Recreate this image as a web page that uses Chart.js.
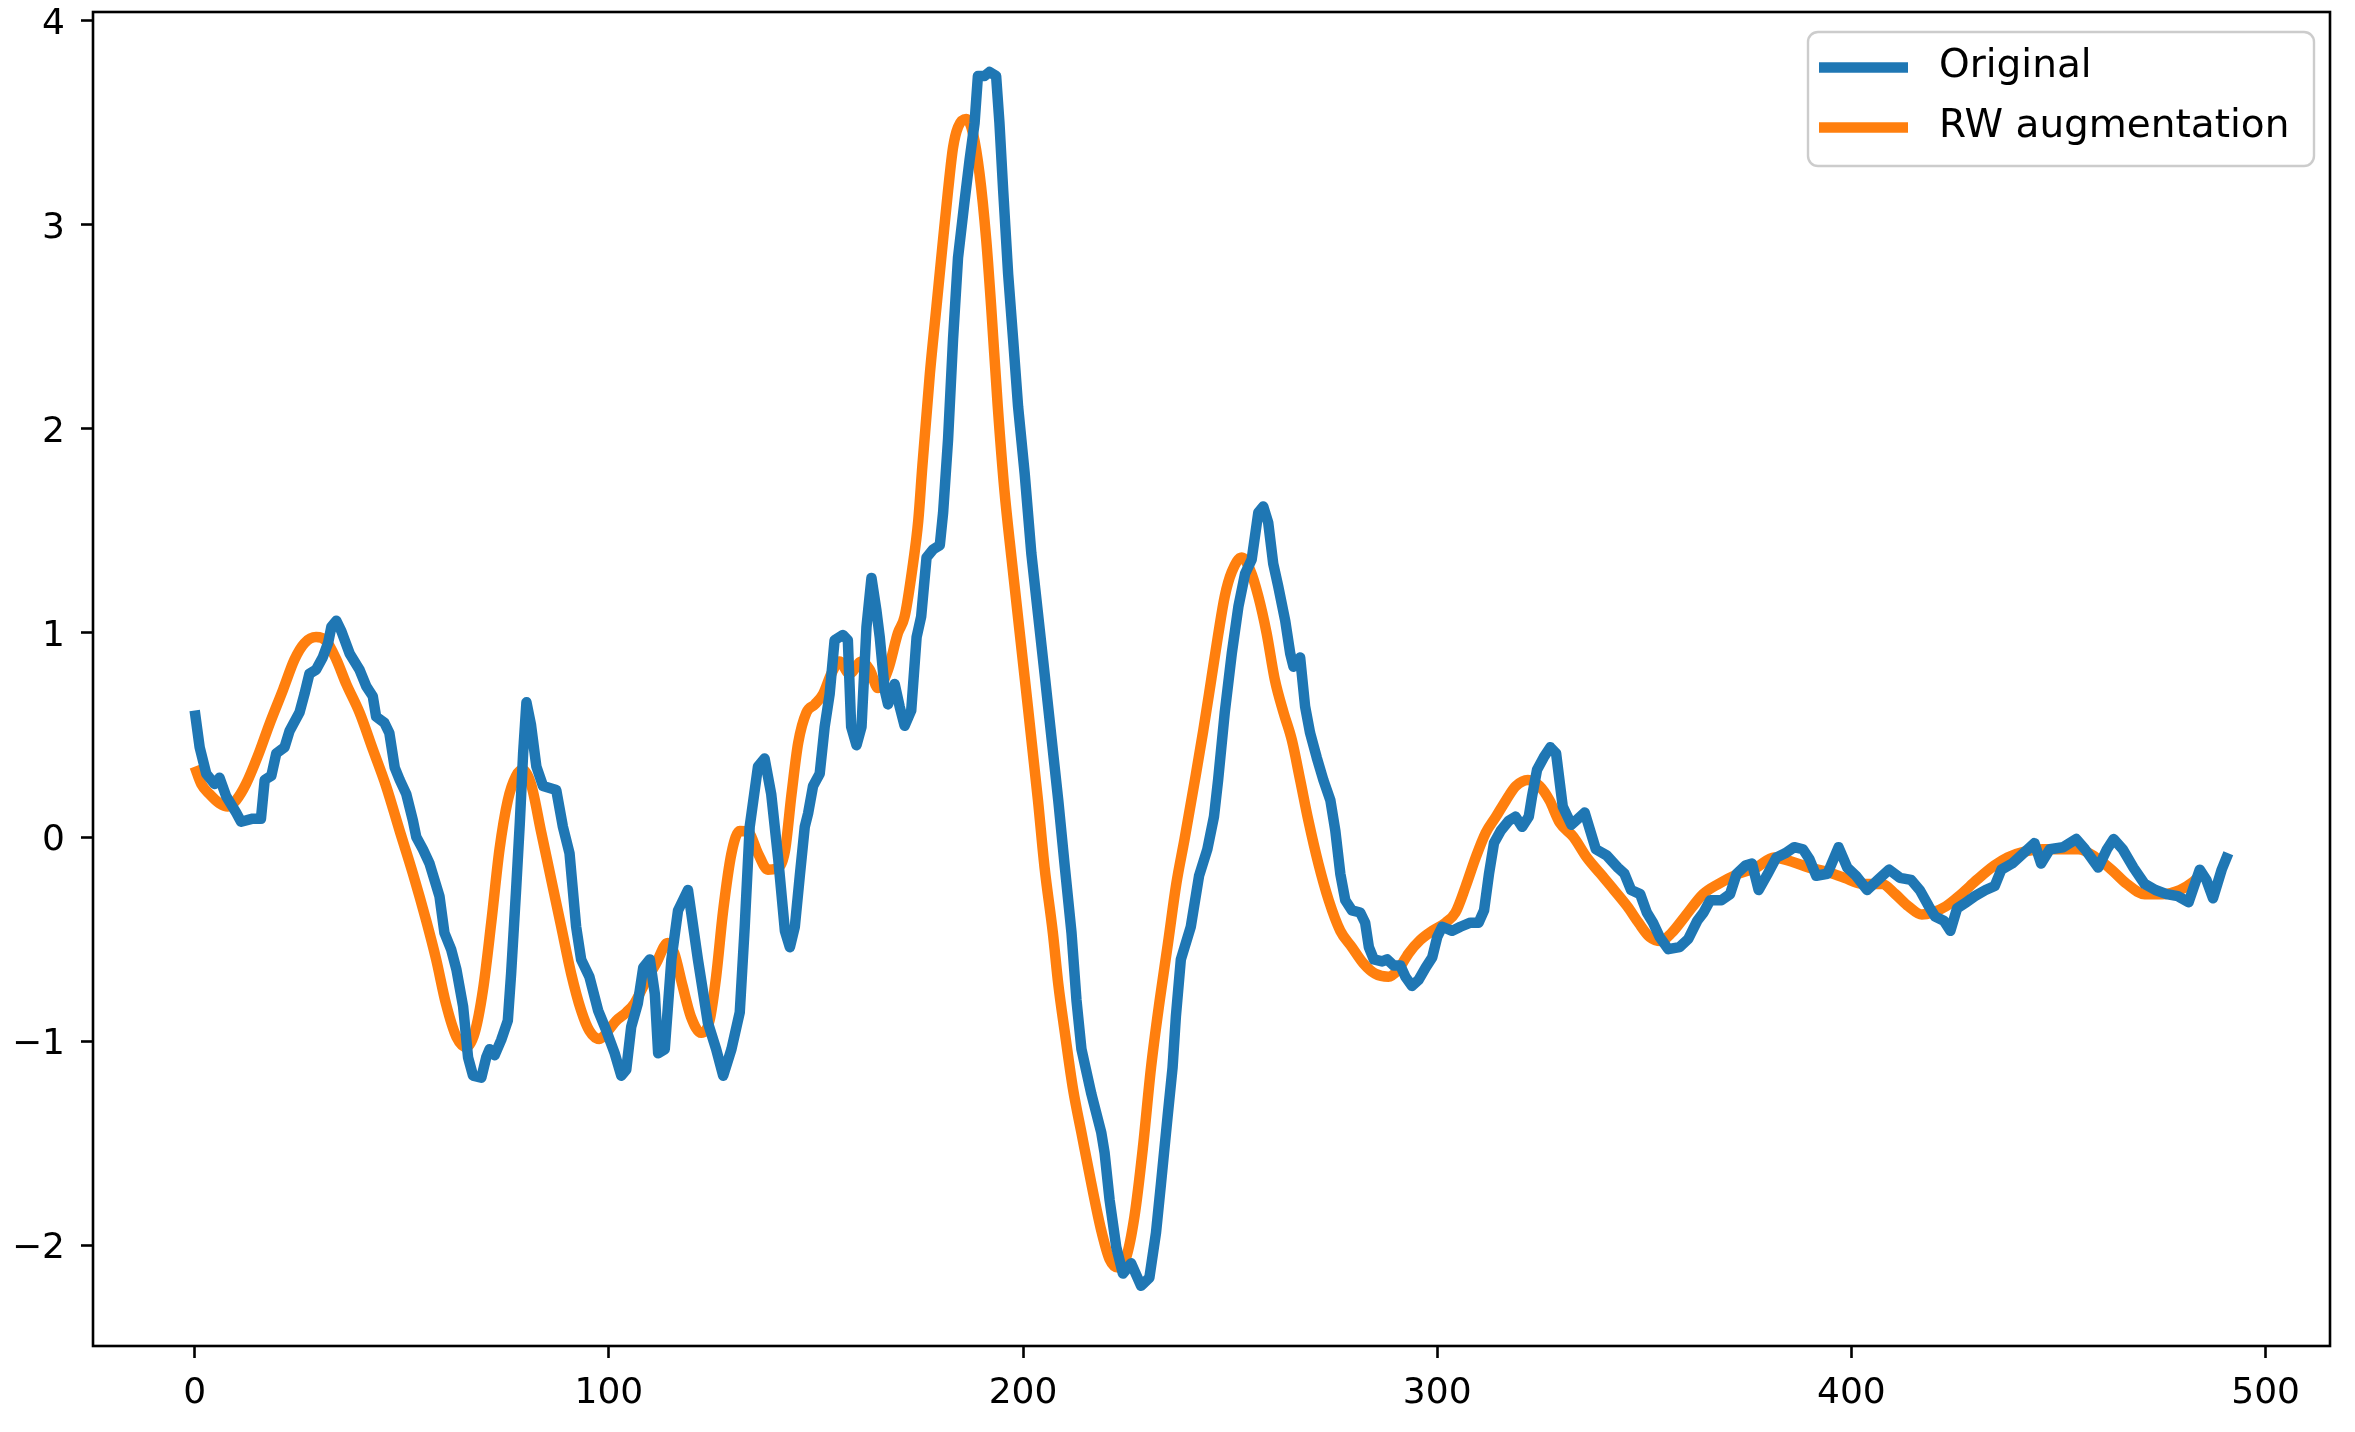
<!DOCTYPE html>
<html>
<head>
<meta charset="utf-8">
<script src="https://cdn.jsdelivr.net/npm/chart.js@4/dist/chart.umd.min.js"></script>
<style>
  html, body { margin: 0; padding: 0; background: #ffffff; }
  #wrap { width: 2355px; height: 1432px; }
</style>
</head>
<body>
<div id="wrap"><canvas id="c" width="2355" height="1432"></canvas></div>
<script>
// ---- data ----
const seriesNames = ['Original', 'RW augmentation'];
const xTicks = [0, 100, 200, 300, 400, 500];
const yTicks = [-2, -1, 0, 1, 2, 3, 4];

const originalX = [0,1.2,2.8,4.8,6,7.6,10,11.2,14,16,16.9,18.5,19.7,21.7,22.9,25.3,26.5,27.7,29.3,30.9,32.2,33,34.2,35.4,37.4,39.8,41.4,43,43.8,45.8,47,48.3,49.5,51.1,52.7,53.5,55.1,56.7,59.1,60.3,61.9,63.2,64.8,66,67.2,69.2,70.4,71.2,72.4,74,75.6,76.4,77.6,78.5,79.3,80.1,81.2,82.5,84.1,87.3,88.9,90.5,92.1,93.3,95.3,97.4,99.4,101.4,103,104.2,105.4,107,108.3,109.9,111.1,111.9,113.5,115.1,116.7,119.1,121.5,123.9,125.9,127.6,129.6,131.6,132.8,134,136,137.6,139.2,140.9,142.5,143.7,144.9,146.1,147.3,148.1,149.3,150.9,152.1,153.3,154.5,156.5,157.7,158.5,159.8,161,162.2,163.4,164.6,165.4,166.6,167.4,169,170.2,171.4,173,174.3,175.4,176.7,178.3,179.9,180.7,181.9,183.1,184.3,185.9,187.1,188.3,189.1,190.7,191.9,193.5,194.3,195.2,196.4,197.6,198.8,200.4,202,205.2,208.5,210.1,211.7,212.9,214.1,216.5,218.9,219.7,220.9,222.5,224.1,226.1,228.5,230.5,232.1,233.3,234.9,236.1,236.9,238.1,240.5,242.5,244.5,246.1,247.1,248.7,250.4,252,253.6,255.2,256.8,258,259.2,260.4,261.6,263.3,264.5,265.3,266.9,268.1,269.3,270.9,272.5,274.2,275.4,276.6,277.8,279.4,281.4,282.6,283.5,284.7,286.7,287.9,289.5,291.1,292.3,293.9,295.5,297.2,298.8,300,301.2,303.6,305.6,308,310,311.3,312.5,313.7,315.3,317.3,318.9,320.5,322.1,322.9,324.1,325.7,327.3,328.7,330.3,332.4,335.6,338.3,340.9,343.6,345.2,346.8,349,350.6,352.1,353.7,355.8,358.5,360.6,362.8,364.3,365.9,368.6,370.7,372.3,374.4,376,377.6,379.8,381.9,384,386.2,388.3,389.9,391.5,394.2,396.9,399,401.1,403.8,406.4,409.1,411.7,414.4,416.5,418.7,420.2,422.3,423.9,425.5,427.7,429.8,432.4,434.6,436.2,438.8,441.5,444.2,445.8,447.9,451.1,454.3,456.4,459.6,461.7,463.3,465.5,468.1,470.8,473.4,476.1,478.8,481.4,484.1,485.7,487.3,489.4,491];
const originalY = [0.62,0.44,0.31,0.26,0.29,0.20,0.12,0.075,0.09,0.09,0.28,0.30,0.41,0.44,0.52,0.61,0.70,0.80,0.82,0.88,0.95,1.03,1.06,1.01,0.90,0.82,0.74,0.69,0.59,0.56,0.51,0.34,0.28,0.21,0.08,0.0,-0.06,-0.13,-0.29,-0.47,-0.55,-0.65,-0.83,-1.08,-1.17,-1.18,-1.08,-1.04,-1.07,-0.995,-0.90,-0.67,-0.26,0.07,0.41,0.66,0.55,0.345,0.25,0.23,0.05,-0.08,-0.44,-0.60,-0.685,-0.85,-0.95,-1.06,-1.17,-1.14,-0.93,-0.815,-0.64,-0.60,-0.77,-1.06,-1.04,-0.60,-0.36,-0.26,-0.60,-0.91,-1.04,-1.17,-1.04,-0.86,-0.44,0.05,0.345,0.385,0.21,-0.11,-0.46,-0.54,-0.44,-0.19,0.05,0.115,0.25,0.31,0.54,0.70,0.965,0.99,0.965,0.54,0.45,0.54,1.03,1.27,1.11,0.98,0.72,0.65,0.75,0.64,0.545,0.62,0.98,1.08,1.37,1.41,1.43,1.59,1.95,2.44,2.84,3.12,3.32,3.50,3.73,3.73,3.75,3.73,3.50,3.17,2.76,2.44,2.11,1.78,1.39,0.80,0.18,-0.15,-0.47,-0.80,-1.04,-1.26,-1.45,-1.55,-1.78,-2.01,-2.14,-2.09,-2.20,-2.16,-1.94,-1.70,-1.37,-1.13,-0.88,-0.60,-0.44,-0.19,-0.06,0.10,0.28,0.61,0.90,1.13,1.29,1.36,1.59,1.62,1.54,1.34,1.23,1.06,0.90,0.835,0.88,0.64,0.51,0.39,0.28,0.18,0.03,-0.18,-0.31,-0.36,-0.37,-0.42,-0.54,-0.60,-0.61,-0.60,-0.63,-0.63,-0.685,-0.73,-0.70,-0.64,-0.59,-0.49,-0.44,-0.46,-0.44,-0.42,-0.42,-0.36,-0.18,-0.03,0.03,0.08,0.10,0.05,0.10,0.20,0.33,0.39,0.44,0.41,0.15,0.06,0.12,-0.06,-0.09,-0.15,-0.18,-0.26,-0.28,-0.37,-0.42,-0.49,-0.55,-0.54,-0.50,-0.41,-0.37,-0.31,-0.31,-0.28,-0.18,-0.14,-0.13,-0.26,-0.18,-0.10,-0.08,-0.05,-0.06,-0.11,-0.19,-0.18,-0.05,-0.15,-0.19,-0.26,-0.21,-0.16,-0.20,-0.21,-0.26,-0.34,-0.39,-0.41,-0.46,-0.35,-0.32,-0.29,-0.26,-0.24,-0.16,-0.13,-0.08,-0.03,-0.13,-0.06,-0.05,-0.01,-0.06,-0.15,-0.06,-0.01,-0.06,-0.15,-0.23,-0.26,-0.28,-0.29,-0.32,-0.16,-0.21,-0.30,-0.16,-0.08];

const rwX = [0,1.6,3.6,6,8,10,12.4,15.3,18,21.3,24.1,26.5,29.3,31.8,34.2,36.6,39.8,43,46.2,49.5,52.7,55.9,58.3,60.7,63.2,65.6,67.6,69.6,71.6,73.6,75.6,77.6,79.2,81.2,83.7,86.1,88.5,90.9,93.3,95.3,97.7,99.8,101.8,104.2,106.2,108.6,111.4,114.2,115.8,117.8,119.8,122.3,124.3,125.9,127.6,129.6,131.6,133.6,136,138.4,140.4,142.5,144.1,145.7,147.7,149.7,151.7,153.7,155.7,158.1,161,163,165,167.4,169.8,171.4,173.3,174.7,175.7,177.5,179.1,180.7,181.9,183.1,184.3,186.3,187.9,189.5,191.1,192.3,193.9,195.5,197.2,200.4,203.6,205.2,207.2,208.5,210.1,212.1,214.1,216.5,218.9,220.9,222.9,224.9,226.9,228.9,230.9,233,235,237,239,241.5,243.5,245.5,247.1,248.7,250.4,252.8,254.8,256.8,258.8,260.8,262.9,264.9,266.9,268.9,271.3,273.8,276.6,279.4,282.2,285,288.2,290.6,293.1,295.9,298.8,302,304.4,306.9,309.3,311.7,314.2,316.6,319,321.9,324.7,327.1,329.6,332.9,336.1,339.4,342.7,345.9,348.6,351.3,354,356.6,359.8,364.2,367.9,372.7,377,381.3,385.5,389.8,394.1,398.3,402.6,407.4,410.6,413.8,417,419.6,422.8,426.5,430.3,434.5,437.7,442,446.2,450.5,454.8,459,462.8,466.5,470.8,475,479.3,482.5,484.6];
const rwY = [0.345,0.26,0.21,0.165,0.15,0.18,0.26,0.40,0.55,0.72,0.87,0.95,0.98,0.96,0.87,0.75,0.61,0.43,0.25,0.03,-0.18,-0.41,-0.60,-0.82,-0.98,-1.03,-0.96,-0.75,-0.42,-0.06,0.18,0.30,0.33,0.26,0.02,-0.21,-0.44,-0.67,-0.85,-0.95,-0.99,-0.95,-0.90,-0.86,-0.815,-0.72,-0.62,-0.52,-0.57,-0.73,-0.88,-0.96,-0.90,-0.685,-0.36,-0.08,0.03,0.025,-0.08,-0.16,-0.155,-0.07,0.21,0.46,0.61,0.65,0.70,0.80,0.86,0.80,0.86,0.82,0.73,0.82,1.00,1.08,1.32,1.55,1.82,2.27,2.60,2.93,3.17,3.38,3.48,3.52,3.45,3.25,2.93,2.60,2.11,1.70,1.37,0.78,0.18,-0.15,-0.47,-0.72,-0.96,-1.24,-1.45,-1.70,-1.93,-2.07,-2.11,-2.06,-1.86,-1.53,-1.13,-0.80,-0.52,-0.23,-0.01,0.28,0.52,0.78,0.99,1.18,1.30,1.37,1.31,1.18,1.0,0.77,0.61,0.475,0.28,0.08,-0.13,-0.31,-0.46,-0.54,-0.62,-0.67,-0.685,-0.65,-0.57,-0.505,-0.46,-0.42,-0.37,-0.24,-0.10,0.02,0.10,0.18,0.25,0.28,0.25,0.18,0.07,0.0,-0.10,-0.18,-0.26,-0.34,-0.42,-0.49,-0.51,-0.47,-0.39,-0.28,-0.23,-0.18,-0.15,-0.10,-0.12,-0.15,-0.17,-0.20,-0.23,-0.23,-0.28,-0.34,-0.38,-0.37,-0.34,-0.28,-0.21,-0.14,-0.10,-0.07,-0.06,-0.06,-0.06,-0.10,-0.16,-0.23,-0.28,-0.28,-0.26,-0.22,-0.18];

const xRange = [-24.55, 515.55];
const yRange = [-2.495, 4.044];

// ---- chart ----
const FONT = '"DejaVu Sans", "Liberation Sans", sans-serif';
const LINE_W = 10.5;
const toPoints = (xs, ys) => xs.map((x, i) => ({ x: x, y: ys[i] }));

const framePlugin = {
  id: 'frame',
  afterDatasetsDraw(chart) {
    const a = chart.chartArea, ctx = chart.ctx;
    ctx.save();
    ctx.strokeStyle = '#000';
    ctx.lineWidth = 2.6;
    ctx.strokeRect(a.left, a.top, a.right - a.left, a.bottom - a.top);
    ctx.restore();
  }
};

const legendPlugin = {
  id: 'mplLegend',
  afterDraw(chart) {
    const ctx = chart.ctx;
    const box = { x: 1808, y: 32, w: 506, h: 134, r: 10 };
    ctx.save();
    ctx.beginPath();
    ctx.roundRect(box.x, box.y, box.w, box.h, box.r);
    ctx.fillStyle = 'rgba(255,255,255,0.8)';
    ctx.fill();
    ctx.strokeStyle = '#cccccc';
    ctx.lineWidth = 2.4;
    ctx.stroke();
    const rows = [67.5, 127.5];
    chart.data.datasets.forEach((ds, i) => {
      const y = rows[i];
      ctx.beginPath();
      ctx.moveTo(1819, y);
      ctx.lineTo(1908, y);
      ctx.strokeStyle = ds.borderColor;
      ctx.lineWidth = LINE_W;
      ctx.lineCap = 'butt';
      ctx.stroke();
      ctx.fillStyle = '#000';
      ctx.font = '39px ' + FONT;
      ctx.textBaseline = 'alphabetic';
      ctx.textAlign = 'left';
      ctx.fillText(ds.label, 1939, y + 9);
    });
    ctx.restore();
  }
};

new Chart(document.getElementById('c'), {
  type: 'line',
  data: {
    datasets: [
      {
        label: seriesNames[0],
        data: toPoints(originalX, originalY),
        borderColor: '#1f77b4',
        backgroundColor: '#1f77b4',
        borderWidth: LINE_W,
        pointRadius: 0,
        tension: 0,
        borderJoinStyle: 'round',
        fill: false
      },
      {
        label: seriesNames[1],
        data: toPoints(rwX, rwY),
        borderColor: '#ff7f0e',
        backgroundColor: '#ff7f0e',
        borderWidth: LINE_W,
        pointRadius: 0,
        cubicInterpolationMode: 'monotone',
        borderJoinStyle: 'round',
        fill: false
      }
    ]
  },
  options: {
    responsive: false,
    devicePixelRatio: 1,
    animation: false,
    layout: { padding: { left: 0, right: 25, top: 12, bottom: 0 } },
    plugins: { legend: { display: false }, tooltip: { enabled: false } },
    scales: {
      x: {
        type: 'linear',
        min: xRange[0],
        max: xRange[1],
        afterBuildTicks(scale) { scale.ticks = xTicks.map(v => ({ value: v })); },
        afterFit(scale) {
          scale.height = 86;
          scale.paddingLeft = 0; scale.paddingRight = 0;
        },
        grid: { display: true, drawOnChartArea: false, drawTicks: true, tickLength: 12, tickWidth: 2.6, tickColor: '#000', color: '#000' },
        border: { display: false },
        ticks: {
          color: '#000',
          padding: 14,
          maxRotation: 0,
          autoSkip: false,
          font: { family: FONT, size: 36 },
          callback: v => String(v)
        }
      },
      y: {
        type: 'linear',
        min: yRange[0],
        max: yRange[1],
        afterBuildTicks(scale) { scale.ticks = yTicks.map(v => ({ value: v })); },
        afterFit(scale) {
          scale.width = 93;
          scale.paddingTop = 0; scale.paddingBottom = 0;
        },
        grid: { display: true, drawOnChartArea: false, drawTicks: true, tickLength: 12, tickWidth: 2.6, tickColor: '#000', color: '#000' },
        border: { display: false },
        ticks: {
          color: '#000',
          padding: 16,
          labelOffset: 4,
          autoSkip: false,
          font: { family: FONT, size: 36 },
          callback: v => (v < 0 ? '\u2212' + Math.abs(v) : String(v))
        }
      }
    }
  },
  plugins: [framePlugin, legendPlugin]
});
</script>
</body>
</html>
